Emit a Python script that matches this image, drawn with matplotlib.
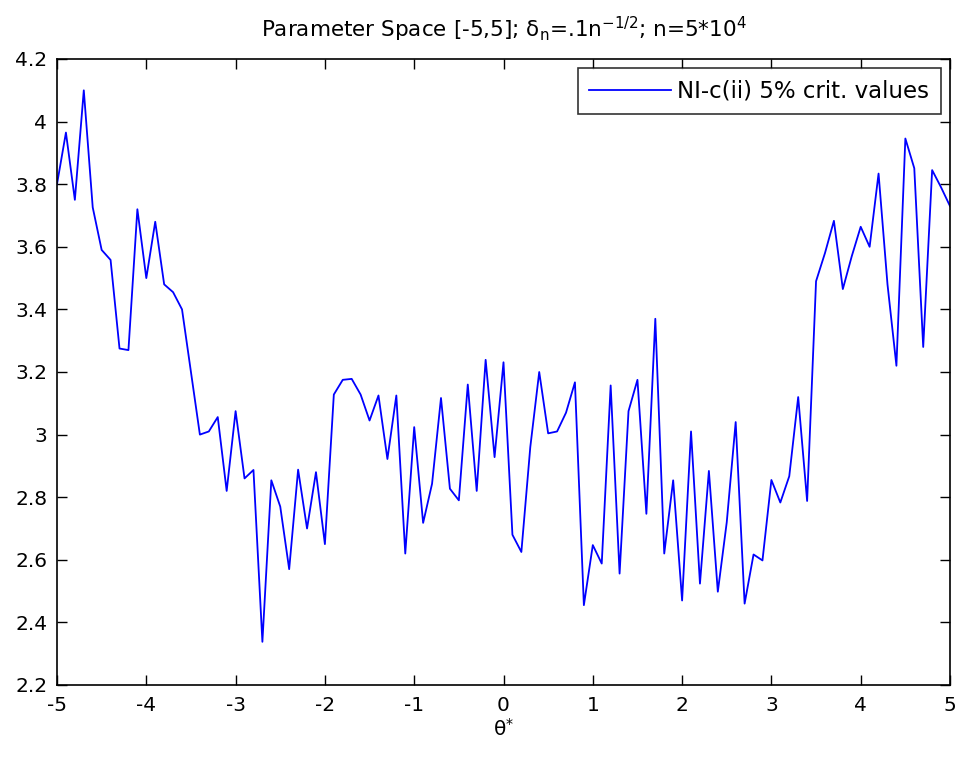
import numpy as np
import matplotlib
matplotlib.use("Agg")
import matplotlib.pyplot as plt

plt.rcParams['font.family'] = ['DejaVu Sans']
plt.rcParams['mathtext.fontset'] = 'dejavusans'

theta = np.round(np.arange(-5.0, 5.0001, 0.1), 1)
crit_values = [
    3.80, 3.965, 3.75, 4.10, 3.726, 3.59, 3.558, 3.275, 3.27, 3.72,   # -5.0 .. -4.1
    3.50, 3.68, 3.48, 3.455, 3.40, 3.20, 3.00, 3.01, 3.056, 2.82,     # -4.0 .. -3.1
    3.075, 2.86, 2.887, 2.338, 2.854, 2.77, 2.57, 2.888, 2.70, 2.88,  # -3.0 .. -2.1
    2.65, 3.128, 3.175, 3.178, 3.128, 3.045, 3.125, 2.922, 3.125, 2.62,  # -2.0 .. -1.1
    3.024, 2.718, 2.843, 3.117, 2.827, 2.79, 3.16, 2.82, 3.239, 2.928,   # -1.0 .. -0.1
    3.231, 2.68, 2.625, 2.96, 3.20, 3.004, 3.01, 3.07, 3.167, 2.455,     # 0.0 .. 0.9
    2.647, 2.588, 3.157, 2.556, 3.075, 3.175, 2.747, 3.37, 2.62, 2.854,  # 1.0 .. 1.9
    2.47, 3.01, 2.524, 2.884, 2.498, 2.72, 3.04, 2.46, 2.617, 2.598,     # 2.0 .. 2.9
    2.855, 2.783, 2.867, 3.12, 2.788, 3.49, 3.58, 3.683, 3.465, 3.57,    # 3.0 .. 3.9
    3.664, 3.60, 3.834, 3.48, 3.22, 3.946, 3.851, 3.28, 3.845, 3.79,     # 4.0 .. 4.9
    3.73,                                                                # 5.0
]
series_label = 'NI-c(ii) 5% crit. values'
xticks = [-5, -4, -3, -2, -1, 0, 1, 2, 3, 4, 5]
yticks = [2.2, 2.4, 2.6, 2.8, 3.0, 3.2, 3.4, 3.6, 3.8, 4.0, 4.2]
ytick_labels = ['2.2', '2.4', '2.6', '2.8', '3', '3.2', '3.4', '3.6', '3.8', '4', '4.2']
xtick_labels = ['-5', '-4', '-3', '-2', '-1', '0', '1', '2', '3', '4', '5']

fig = plt.figure(figsize=(9.63, 7.59), dpi=100)
ax = fig.add_axes([57/963, 1 - 685/759, (950 - 57)/963, (685 - 59)/759])

ax.plot(theta, crit_values, color=(0, 0, 1), linewidth=1.3, label=series_label)

ax.set_xlim(-5, 5)
ax.set_ylim(2.2, 4.2)
ax.set_xticks(xticks)
ax.set_xticklabels(xtick_labels)
ax.set_yticks(yticks)
ax.set_yticklabels(ytick_labels)
ax.tick_params(direction='in', length=7, width=1, top=True, right=True,
               labelsize=14.5, colors='black')
ax.tick_params(axis='x', pad=8)
ax.tick_params(axis='y', pad=7)
for s in ax.spines.values():
    s.set_linewidth(1.2)
    s.set_color('black')

ax.set_title('Parameter Space [-5,5]; δ$_{\\mathregular{n}}$=.1n$^{\\mathregular{-1/2}}$; n=5*10$^{\\mathregular{4}}$',
             fontsize=15.5, pad=16)
ax.set_xlabel('θ$^{\\mathregular{*}}$', fontsize=14.5, labelpad=2)

leg = ax.legend(loc='upper right', fontsize=16.5, fancybox=False, frameon=True,
                borderaxespad=0.4, handlelength=3.55, handletextpad=0.3,
                borderpad=0.5)
leg.get_frame().set_edgecolor('black')
leg.get_frame().set_linewidth(1.2)

fig.savefig('out.png', dpi=100)
